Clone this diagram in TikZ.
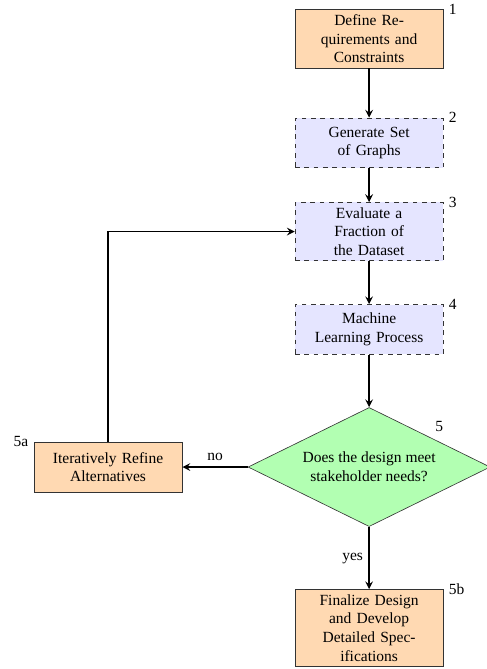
\documentclass[tikz,border=0pt]{standalone}
\usepackage{fontspec}
\setmainfont{Liberation Serif}
\usetikzlibrary{positioning,arrows.meta,shapes.geometric}

\begin{document}
\begin{tikzpicture}[
    stepbox/.style={draw=black!80, align=center, text width=3cm, minimum width=3.36cm,
                    minimum height=1.13cm, inner sep=3.3pt},
    fixbox/.style={stepbox, fill=orange!30},
    mlbox/.style={stepbox, fill=blue!10, dashed},
    decide/.style={diamond, draw=black!80, fill=green!30, align=center, aspect=2.03,
                   minimum width=5.49cm, minimum height=2.7cm, inner sep=1pt},
    arr/.style={->, very thick, >=stealth}
]
\useasboundingbox (0,0) rectangle (11.04,-15.17);
\node[fixbox, label={[anchor=west]north east:1}]  (req)    at (8.37,-0.88)  {Define Re-\\quirements and\\Constraints};
\node[mlbox,  label={[anchor=west]north east:2}]  (gen)    at (8.37,-3.24)  {Generate Set\\of Graphs};
\node[mlbox,  label={[anchor=west]north east:3}]  (eval)   at (8.37,-5.25)  {Evaluate a\\Fraction of\\the Dataset};
\node[mlbox,  label={[anchor=west]north east:4}]  (learn)  at (8.37,-7.47)  {Machine\\Learning Process};
\node[decide, label={north east:5}]               (meet)   at (8.37,-10.59) {Does the design meet\\stakeholder needs?};
\node[fixbox, label={[anchor=east]north west:5a}] (refine) at (2.45,-10.59) {Iteratively Refine\\Alternatives};
\node[fixbox, label={[anchor=west]north east:5b}] (final)  at (8.37,-14.24) {Finalize Design\\and Develop\\Detailed Spec-\\ifications};
\draw[arr] (req) -- (gen); \draw[arr] (gen) -- (eval); \draw[arr] (eval) -- (learn);
\draw[arr] (learn) -- (meet);
\draw[arr] (meet) -- node[above] {no} (refine);
\draw[arr] (meet) -- node[left] {yes} (final);
\draw[arr] (refine) |- (eval);
\end{tikzpicture}
\end{document}
